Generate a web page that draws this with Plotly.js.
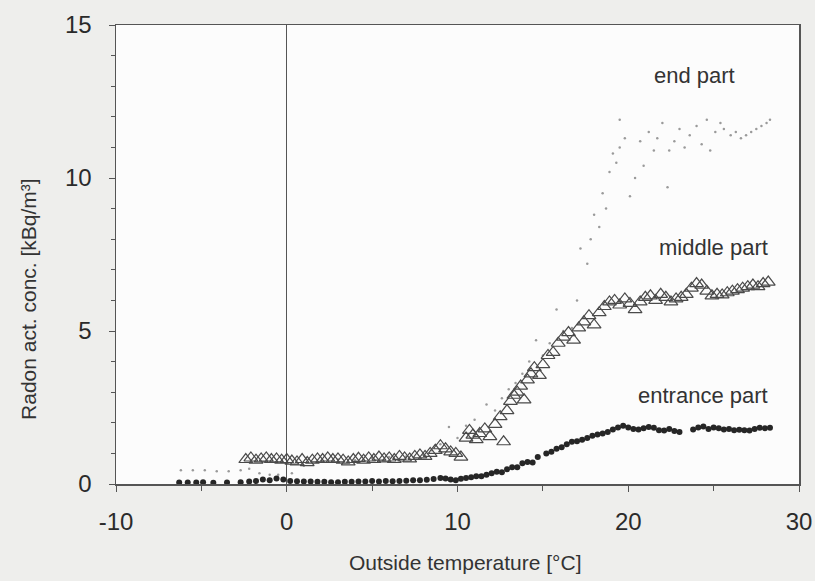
<!DOCTYPE html>
<html>
<head>
<meta charset="utf-8">
<script src="https://cdn.plot.ly/plotly-3.0.1.min.js"></script>
<style>html,body{margin:0;padding:0;background:#eeeeec;}#chart{width:815px;height:581px;}</style>
</head>
<body>
<div id="chart"></div>
<script>
// Entrance part (filled dots)
const entranceT = [-6.3,-5.8,-5.3,-4.9,-4.3,-3.5,-2.7,-2.2,-1.8,-1.4,-1.0,-0.6,-0.2,0.2,0.6,1.0,1.4,1.8,2.2,2.6,3.0,3.4,3.8,4.2,4.6,5.0,5.4,5.8,6.2,6.6,7.0,7.4,7.8,8.2,8.6,9.0,9.3,9.6,9.9,10.2,10.5,10.8,11.1,11.4,11.7,12.0,12.3,12.6,12.9,13.2,13.5,13.8,14.1,14.4,14.7,15.2,15.5,15.8,16.1,16.4,16.7,17.0,17.3,17.6,17.9,18.2,18.5,18.8,19.1,19.4,19.7,20.0,20.3,20.6,20.9,21.2,21.5,21.8,22.1,22.4,22.7,23.0,23.8,24.1,24.4,24.7,25.0,25.3,25.6,25.9,26.2,26.5,26.8,27.1,27.4,27.7,28.0,28.3];
const entranceC = [0.05,0.05,0.05,0.06,0.04,0.05,0.06,0.08,0.10,0.15,0.12,0.18,0.15,0.10,0.09,0.08,0.08,0.07,0.07,0.06,0.06,0.07,0.07,0.08,0.08,0.10,0.08,0.10,0.09,0.10,0.11,0.12,0.12,0.14,0.16,0.20,0.18,0.15,0.12,0.17,0.20,0.22,0.25,0.25,0.30,0.35,0.40,0.38,0.48,0.55,0.55,0.68,0.72,0.70,0.88,1.00,1.05,1.15,1.20,1.30,1.38,1.40,1.45,1.50,1.58,1.62,1.65,1.70,1.78,1.85,1.90,1.85,1.80,1.78,1.82,1.86,1.84,1.76,1.75,1.80,1.73,1.70,1.78,1.85,1.88,1.80,1.85,1.82,1.78,1.80,1.76,1.77,1.76,1.75,1.80,1.84,1.82,1.84];

// Middle part (open triangles)
const middleT = [-2.4,-2.1,-1.8,-1.5,-1.2,-0.9,-0.6,-0.3,0.0,0.3,0.6,0.9,1.2,1.5,1.8,2.1,2.4,2.7,3.0,3.3,3.6,3.9,4.2,4.5,4.8,5.1,5.4,5.7,6.0,6.3,6.6,6.9,7.2,7.5,7.8,8.1,8.4,8.7,9.0,9.3,9.6,9.9,10.2,10.5,10.7,10.9,11.1,11.3,11.6,11.9,12.2,12.5,12.7,12.9,13.1,13.3,13.5,13.7,13.9,14.1,14.3,14.5,14.8,15.0,15.3,15.6,15.9,16.2,16.5,16.8,17.1,17.4,17.7,18.0,18.3,18.6,18.9,19.2,19.5,19.8,20.1,20.4,20.7,21.0,21.3,21.6,21.9,22.2,22.5,22.8,23.1,23.4,23.7,24.0,24.3,24.6,24.9,25.2,25.5,25.8,26.1,26.4,26.7,27.0,27.3,27.6,27.9,28.2];
const middleC = [0.80,0.85,0.78,0.82,0.85,0.80,0.82,0.78,0.80,0.75,0.72,0.80,0.70,0.78,0.82,0.80,0.85,0.80,0.82,0.78,0.72,0.80,0.84,0.78,0.85,0.80,0.88,0.82,0.85,0.80,0.90,0.85,0.82,0.90,0.95,0.90,1.00,1.10,1.25,1.15,1.05,1.00,0.88,1.50,1.75,1.60,1.45,1.65,1.80,1.55,1.95,2.20,1.38,2.40,2.70,2.90,3.00,3.20,2.75,3.40,3.60,3.80,3.55,3.90,4.20,4.30,4.60,4.80,4.95,4.70,5.10,5.30,5.50,5.20,5.60,5.80,5.95,6.00,5.85,6.05,5.90,5.70,5.95,6.10,6.15,6.00,6.20,6.10,5.95,6.05,6.10,6.20,6.40,6.55,6.50,6.30,6.15,6.20,6.18,6.25,6.30,6.35,6.40,6.45,6.50,6.45,6.55,6.60];

// End part (small grey dots)
const endT = [-6.2,-5.5,-4.8,-4.1,-3.4,-2.7,-2.2,-1.6,-1.0,-0.5,0.3,1.0,2.0,3.0,4.0,5.0,6.0,7.0,8.0,8.5,9.0,9.5,10.0,10.5,11.0,11.7,12.2,12.6,13.0,13.4,13.8,14.2,14.6,15.0,15.4,15.8,16.2,16.7,17.0,17.2,17.6,17.8,18.0,18.3,18.5,18.7,18.9,19.1,19.3,19.5,19.5,19.8,20.1,20.4,20.7,20.9,21.2,21.5,21.7,22.0,22.3,22.4,22.7,23.0,23.3,23.6,24.0,24.3,24.6,24.8,25.1,25.4,25.6,26.0,26.3,26.6,26.9,27.2,27.5,27.8,28.1,28.3];
const endC = [0.45,0.45,0.45,0.42,0.42,0.45,0.50,0.35,0.30,0.30,0.35,0.60,0.75,0.80,0.78,0.85,0.88,0.90,0.95,1.10,1.30,1.86,1.50,1.90,2.10,2.60,2.40,2.80,3.10,3.30,3.60,4.00,4.70,4.20,4.60,5.70,5.00,5.10,6.00,7.70,7.20,8.00,8.80,8.40,9.50,9.00,10.20,10.80,10.50,11.00,11.90,11.30,9.40,10.00,11.20,10.40,11.50,10.90,11.30,11.80,9.70,10.90,11.20,11.60,11.00,11.40,11.70,11.10,11.90,10.90,11.50,11.80,11.60,11.40,11.50,11.30,11.40,11.50,11.60,11.70,11.80,11.90];

const xTickVals = [-10, 0, 10, 20, 30];
const yTickVals = [0, 5, 10, 15];

const traces = [
  {x: endT, y: endC, type: 'scatter', mode: 'markers', name: 'end part',
   marker: {symbol: 'circle', size: 2.5, color: '#9a9a9a'}, cliponaxis: false},
  {x: middleT, y: middleC, type: 'scatter', mode: 'markers', name: 'middle part',
   marker: {symbol: 'triangle-up-open', size: 12, color: '#4a4a4a', line: {width: 1.2, color: '#4a4a4a'}}, cliponaxis: false},
  {x: entranceT, y: entranceC, type: 'scatter', mode: 'markers', name: 'entrance part',
   marker: {symbol: 'circle', size: 6, color: '#262626'}, cliponaxis: false}
];

const fontFam = 'Liberation Sans, Arial, sans-serif';
const layout = {
  width: 815, height: 581,
  margin: {l: 116, r: 16, t: 25, b: 97},
  paper_bgcolor: '#eeeeec',
  plot_bgcolor: '#fcfcfc',
  showlegend: false,
  font: {family: fontFam, color: '#2a2a2a'},
  xaxis: {
    range: [-10, 30], tickvals: xTickVals, ticktext: xTickVals.map(String),
    showgrid: false, zeroline: true, zerolinecolor: '#555555', zerolinewidth: 1,
    showline: true, linecolor: '#555555', linewidth: 1.5, mirror: true,
    ticks: 'outside', ticklen: 6, tickcolor: '#555555', ticklabelstandoff: 10,
    minor: {dtick: 5, tick0: 0, ticks: 'outside', ticklen: 5, tickcolor: '#555555'},
    tickfont: {size: 24, color: '#2a2a2a'}
  },
  yaxis: {
    range: [0, 15], tickvals: yTickVals, ticktext: yTickVals.map(String),
    showgrid: false, zeroline: false,
    showline: true, linecolor: '#555555', linewidth: 1.5, mirror: true,
    ticks: 'outside', ticklen: 6, tickcolor: '#555555', ticklabelstandoff: 12,
    minor: {dtick: 1, tick0: 0, ticks: 'outside', ticklen: 4, tickcolor: '#555555'},
    tickfont: {size: 24, color: '#2a2a2a'}
  },
  annotations: [
    {xref: 'paper', yref: 'paper', x: 0.909, y: 0.889, xanchor: 'right', yanchor: 'middle',
     text: 'end part', showarrow: false, font: {size: 22, color: '#333333'}},
    {xref: 'paper', yref: 'paper', x: 0.9575, y: 0.516, xanchor: 'right', yanchor: 'middle',
     text: 'middle part', showarrow: false, font: {size: 22, color: '#333333'}},
    {xref: 'paper', yref: 'paper', x: 0.9575, y: 0.192, xanchor: 'right', yanchor: 'middle',
     text: 'entrance part', showarrow: false, font: {size: 22, color: '#333333'}},
    {xref: 'paper', yref: 'paper', x: 0.512, y: -0.172, xanchor: 'center', yanchor: 'middle',
     text: 'Outside temperature [°C]', showarrow: false, font: {size: 21, color: '#333333'}},
    {xref: 'paper', yref: 'paper', x: -0.129, y: 0.403, xanchor: 'center', yanchor: 'middle',
     textangle: -90, text: 'Radon act. conc. [kBq/m³]', showarrow: false, font: {size: 21, color: '#333333'}}
  ]
};

Plotly.newPlot('chart', traces, layout, {displayModeBar: false, staticPlot: true});
</script>
</body>
</html>
